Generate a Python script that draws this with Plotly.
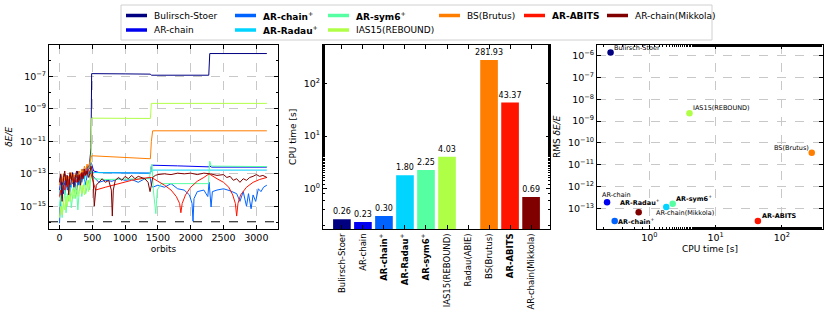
import math
import plotly.graph_objects as go

# ---------------- data ----------------
methods = ['Bulirsch-Stoer', 'AR-chain', '<b>AR-chain</b><sup>+</sup>', '<b>AR-Radau</b><sup>+</sup>',
           '<b>AR-sym6</b><sup>+</sup>', 'IAS15(REBOUND)', 'Radau(ABIE)', 'BS(Brutus)',
           '<b>AR-ABITS</b>', 'AR-chain(Mikkola)']
colors = ['#000080', '#0000f1', '#0063ff', '#00d4ff', '#57ffa3', '#b0ff47', '#ffe600',
          '#ff7e00', '#ff1400', '#800000']
cpu_time = [0.26, 0.23, 0.30, 1.80, 2.25, 4.03, None, 281.93, 43.37, 0.69]
rms_err = [1.4e-6, 1.9e-13, 2.6e-14, 1.15e-13, 1.6e-13, 2.3e-9, None, 3.5e-11, 2.6e-14, 6.6e-14]

eps_line = 1.11e-16

orbits_early = [0, 20, 40, 60, 80, 100, 120, 140, 160, 180, 200, 220, 240, 260, 280, 300,
                320, 340, 360, 380, 400, 420, 440, 460, 480]

bs_err_early = [3e-14, 8e-14, 2e-14, 6e-14, 1e-13, 4e-14, 7e-14, 2.5e-14, 9e-14, 5e-14, 1.2e-13, 3e-14,
                8e-14, 6e-14, 1.5e-13, 4e-14, 1e-13, 7e-14, 2e-13, 9e-14, 1.5e-13, 3e-13, 2e-13, 5e-13, 4e-12]
bs_orbit_late = [490, 1000, 1385, 1400, 2275, 2290, 3160]
bs_err_late = [1.5e-7, 1.45e-7, 1.4e-7, 1.2e-7, 1.2e-7, 2.6e-6, 2.6e-6]

arc_err_early = [1e-14, 4e-14, 1.5e-14, 6e-15, 3e-14, 8e-14, 2e-14, 5e-14, 1e-14, 4e-14, 2.5e-14, 7e-14,
                 3e-14, 1e-13, 5e-14, 2e-14, 8e-14, 4e-14, 1.2e-13, 6e-14, 2e-13, 1e-13, 3e-13, 2e-13, 5e-13]
arc_orbit_late = [490, 520, 600, 1000, 1385, 1400, 1420, 1800, 2270, 2290, 2320, 3160]
arc_err_late = [4e-13, 1.5e-13, 1.2e-13, 1.15e-13, 1.1e-13, 3e-13, 3.4e-13, 3.1e-13, 2.7e-13, 3e-13,
                2.6e-13, 2.6e-13]

arcp_err_early = [9e-17, 1e-14, 3e-15, 1.5e-14, 5e-15, 2.5e-14, 1e-14, 4e-14, 8e-15, 2e-14, 5e-14, 1.5e-14,
                  3e-14, 6e-15, 4e-14, 2e-14, 7e-14, 3e-14, 1e-13, 5e-14, 2e-14, 8e-14, 1.5e-13, 6e-14, 2e-13]
arcp_orbit_late = [500, 550, 600, 700, 800, 900, 1000, 1100, 1200, 1300, 1380, 1400, 1420, 1500, 1600,
                   1700, 1800, 1900, 1980, 2020, 2035, 2050, 2100, 2200, 2260, 2280, 2300, 2310, 2330,
                   2400, 2500, 2600, 2700, 2750, 2800, 2850, 2880, 2920, 2950, 2990, 3030, 3070, 3110, 3160]
arcp_err_late = [8e-14, 5e-14, 3e-14, 4e-14, 3.5e-14, 5e-14, 4e-14, 4.5e-14, 3e-14, 5e-14, 6e-14, 2e-14,
                 1.5e-14, 2e-14, 1.5e-14, 2.5e-14, 1.2e-14, 1e-14, 5e-15, 1.5e-15, 1.2e-16, 3e-15, 8e-15,
                 1e-14, 4e-15, 3e-14, 2e-15, 9e-16, 8e-15, 1e-14, 1.2e-14, 9e-15, 6e-15, 2e-15, 8e-15,
                 1e-15, 6e-15, 7e-16, 5e-15, 2e-15, 1.2e-14, 8e-15, 1.5e-14, 2e-14]

arr_err_early = [5e-15, 2e-14, 8e-15, 3e-14, 1e-14, 5e-14, 2e-14, 1e-14, 4e-14, 1.5e-14, 6e-14, 2.5e-14,
                 8e-14, 3e-14, 1e-13, 5e-14, 2e-14, 7e-14, 1.2e-13, 4e-14, 1.5e-13, 8e-14, 2e-13, 3e-13, 2e-13]
arr_orbit_late = [490, 1385, 1400, 1420, 3160]
arr_err_late = [1.2e-13, 1.1e-13, 1.5e-13, 1.7e-13, 1.7e-13]

ars_err_early = [1e-15, 5e-15, 2e-16, 3e-15, 1e-14, 4e-16, 6e-15, 2e-15, 1.5e-14, 8e-16, 5e-15, 2e-14,
                 3e-15, 1e-14, 6e-16, 8e-15, 2e-14, 4e-15, 1.5e-14, 3e-14, 6e-15, 2e-14, 4e-14, 1e-14, 1e-13]
ars_orbit_late = [490, 520, 700, 1000, 1300, 1370, 1390, 1410, 1430, 1450, 1468, 1490, 1550, 2000,
                  2270, 2290, 2310, 3160]
ars_err_late = [8e-14, 5e-14, 4.5e-14, 4.5e-14, 4.5e-14, 5e-14, 2e-13, 4e-13, 1e-14, 2e-15, 3.5e-16,
                1e-14, 2.5e-14, 2.5e-14, 2.5e-14, 6e-13, 3e-13, 2.8e-13]

ias_err_early = [2e-16, 1e-15, 3e-16, 2e-15, 6e-16, 4e-15, 1e-15, 8e-15, 2e-15, 5e-15, 1.2e-14, 3e-15,
                 8e-15, 2e-14, 4e-15, 1e-14, 3e-14, 6e-15, 2e-14, 5e-15, 1.5e-14, 4e-14, 8e-15, 3e-14, 2e-13]
ias_orbit_late = [490, 1385, 1400, 3160]
ias_err_late = [2.7e-10, 2.6e-10, 2.2e-9, 2.2e-9]

bru_err_early = [2e-14, 6e-14, 3e-14, 1e-13, 4e-14, 8e-14, 2e-14, 7e-14, 5e-14, 1.2e-13, 3e-14, 9e-14,
                 6e-14, 1e-13, 4e-14, 1.5e-13, 8e-14, 2e-13, 1e-13, 3e-13, 1.5e-13, 4e-13, 2e-13, 6e-13, 1e-12]
bru_orbit_late = [490, 700, 1000, 1385, 1400, 1420, 3160]
bru_err_late = [1.3e-12, 1.15e-12, 1e-12, 8.5e-13, 1e-11, 4.5e-11, 4.5e-11]

abi_err_early = [4e-15, 1e-14, 6e-15, 2e-14, 1e-14, 3e-14, 1.5e-14, 4e-14, 2e-14, 3e-14, 5e-14, 2.5e-14,
                 6e-14, 3e-14, 8e-14, 4e-14, 1e-13, 5e-14, 1.2e-13, 8e-14, 1.5e-13, 1e-13, 2e-13, 1.2e-13, 1e-13]
abi_orbit_late = [500, 550, 700, 900, 1100, 1300, 1400, 1500, 1600, 1700, 1780, 1830, 1850, 1870, 1920,
                  2000, 2100, 2200, 2280, 2400, 2500, 2580, 2640, 2680, 2700, 2720, 2760, 2850, 2950,
                  3050, 3160]
abi_err_late = [5e-14, 1e-14, 1.5e-14, 2.5e-14, 4e-14, 5.5e-14, 6e-14, 3.5e-14, 2e-14, 1e-14, 4e-15,
                1.5e-15, 4e-16, 1.5e-15, 5e-15, 1.5e-14, 3.5e-14, 6e-14, 1e-13, 5e-14, 3e-14, 1.5e-14,
                5e-15, 1.5e-15, 2.5e-16, 1.5e-15, 5e-15, 1.5e-14, 3e-14, 4.5e-14, 6e-14]

mik_err_early = [3e-14, 1e-13, 2e-15, 6e-14, 1.5e-13, 2e-14, 8e-14, 5e-15, 1.2e-13, 4e-14, 1e-13, 1.5e-14,
                 6e-14, 1.5e-13, 3e-14, 9e-14, 2e-14, 1.2e-13, 5e-14, 2e-13, 8e-14, 1.5e-13, 6e-14, 1e-13, 3e-13]
mik_orbit_late = [500, 515, 530, 560, 600, 650, 700, 750, 790, 805, 820, 850, 900, 950, 1000, 1050, 1100,
                  1150, 1200, 1250, 1300, 1350, 1380, 1400, 1420, 1460, 1500, 1600, 1700, 1800, 1900,
                  2000, 2100, 2200, 2300, 2400, 2500, 2550, 2600, 2650, 2700, 2750, 2800, 2850, 2900,
                  2950, 3000, 3050, 3100, 3160]
mik_err_late = [1.5e-13, 3e-14, 1e-15, 2e-14, 3e-14, 5e-14, 3e-14, 4e-14, 1e-14, 2.5e-16, 1e-14, 4e-14,
                6e-14, 4e-14, 7e-14, 5e-14, 8e-14, 5e-14, 7e-14, 6e-14, 5e-14, 3e-14, 8e-15, 2e-14, 6e-14,
                8e-14, 9e-14, 1e-13, 9e-14, 1.1e-13, 1e-13, 1.1e-13, 9e-14, 1.1e-13, 1e-13, 8e-14, 9e-14,
                6e-14, 7e-14, 4e-14, 5e-14, 3e-14, 5e-14, 4e-14, 6e-14, 7e-14, 9e-14, 7e-14, 8e-14, 6e-14]

energy_series = [
    (0, bs_err_early, bs_orbit_late, bs_err_late),
    (1, arc_err_early, arc_orbit_late, arc_err_late),
    (2, arcp_err_early, arcp_orbit_late, arcp_err_late),
    (3, arr_err_early, arr_orbit_late, arr_err_late),
    (4, ars_err_early, ars_orbit_late, ars_err_late),
    (5, ias_err_early, ias_orbit_late, ias_err_late),
    (7, bru_err_early, bru_orbit_late, bru_err_late),
    (8, abi_err_early, abi_orbit_late, abi_err_late),
    (9, mik_err_early, mik_orbit_late, mik_err_late),
]

FONT = 'DejaVu Sans'
W, H = 830, 325


def px_x(v):
    return v / W


def px_y(v):
    return 1 - v / H


fig = go.Figure()

# left: energy error vs orbits
for idx, early, orb_late, err_late in energy_series:
    fig.add_trace(go.Scatter(
        x=orbits_early + orb_late, y=early + err_late, mode='lines',
        line=dict(color=colors[idx], width=1), name=methods[idx],
        showlegend=False, xaxis='x', yaxis='y'))

fig.add_shape(type='line', xref='x domain', yref='y', x0=0, x1=1, y0=eps_line, y1=eps_line,
              line=dict(color='black', width=1, dash='dash'))

# middle: CPU time bars
fig.add_trace(go.Bar(
    x=methods, y=cpu_time, marker=dict(color=colors, line=dict(width=0)), width=0.84,
    text=['' if v is None else f'{v:.2f}' for v in cpu_time], textposition='outside',
    constraintext='none', textfont=dict(size=8, family=FONT, color='black'), cliponaxis=False,
    showlegend=False, xaxis='x2', yaxis='y2'))

# right: accuracy vs CPU time
keep = [i for i in range(len(methods)) if rms_err[i] is not None]
fig.add_trace(go.Scatter(
    x=[cpu_time[i] for i in keep], y=[rms_err[i] for i in keep], mode='markers',
    marker=dict(color=[colors[i] for i in keep], size=6.5), cliponaxis=False,
    showlegend=False, xaxis='x3', yaxis='y3'))

# label offsets (px) and anchors for the scatter annotations
label_place = {0: (1, 4, 'left'), 1: (-7, 7, 'left'), 2: (1, 0, 'left'), 3: (-4, 4, 'right'),
               4: (1, 5, 'left'), 5: (2, 5, 'left'), 7: (-1, 5, 'right'), 8: (2, 5, 'left'),
               9: (15, -1, 'left')}
for i in keep:
    dx, dy, anchor = label_place[i]
    fig.add_annotation(xref='x3', yref='y3', x=math.log10(cpu_time[i]), y=math.log10(rms_err[i]),
                       text=methods[i], showarrow=False, xanchor=anchor, yanchor='middle',
                       xshift=dx, yshift=dy, font=dict(size=6.5, family=FONT, color='black'))

axis_style = dict(showline=True, linecolor='black', linewidth=1, mirror='allticks',
                  ticks='inside', ticklen=4, tickcolor='black', zeroline=False, automargin=False,
                  tickfont=dict(size=9.5, family=FONT, color='black'))
grid = dict(showgrid=True, gridcolor='#c8c8c8', griddash='dash', gridwidth=0.8)

ydom = [px_y(229), px_y(44.7)]


def sup_labels(exps):
    return [f'10<sup>{"−" if e < 0 else ""}{abs(e)}</sup>' for e in exps]


left_exps = [-15, -13, -11, -9, -7]
right_exps = [-13, -12, -11, -10, -9, -8, -7, -6]

fig.update_layout(
    template='none',
    width=W, height=H, margin=dict(l=0, r=0, t=0, b=0),
    paper_bgcolor='white', plot_bgcolor='white',
    font=dict(family=FONT, size=9, color='black'),
    xaxis=dict(domain=[px_x(49), px_x(278)], range=[-160, 3330], anchor='y',
               tickvals=[0, 500, 1000, 1500, 2000, 2500, 3000],
               title=dict(text='orbits', font=dict(size=9), standoff=3), **grid, **axis_style),
    yaxis=dict(domain=ydom, type='log', range=[-16.4, -5.04], anchor='x',
               tickvals=[10.0 ** e for e in left_exps], ticktext=sup_labels(left_exps),
               minor=dict(tickvals=[10.0 ** e for e in range(-16, -5)], ticks='inside',
                          ticklen=2, tickcolor='black', showgrid=False),
               title=dict(text='<i>δE/E</i>', font=dict(size=9), standoff=5), **grid, **axis_style),
    xaxis2=dict(domain=[px_x(323), px_x(550)], range=[-0.9, 9.9], anchor='y2', type='category',
                tickangle=-90, showgrid=False,
                **{**axis_style, 'tickfont': dict(size=8.5, family=FONT, color='black')}),
    yaxis2=dict(domain=ydom, type='log', range=[-0.77, 2.74], anchor='x2',
                tickvals=[1, 10, 100], ticktext=sup_labels([0, 1, 2]), showgrid=False,
                minor=dict(ticks='inside', ticklen=2, tickcolor='black', showgrid=False),
                title=dict(text='CPU time [s]', font=dict(size=9), standoff=5), **axis_style),
    xaxis3=dict(domain=[px_x(597), px_x(823)], type='log', range=[-0.79, 2.62], anchor='y3',
                tickvals=[1, 10, 100], ticktext=sup_labels([0, 1, 2]),
                minor=dict(ticks='inside', ticklen=2, tickcolor='black', showgrid=False),
                title=dict(text='CPU time [s]', font=dict(size=9), standoff=3), **grid, **axis_style),
    yaxis3=dict(domain=ydom, type='log', range=[-13.95, -5.5], anchor='x3',
                tickvals=[10.0 ** e for e in right_exps], ticktext=sup_labels(right_exps),
                title=dict(text='RMS <i>δE/E</i>', font=dict(size=9), standoff=5), **grid, **axis_style),
)

# legend drawn by hand (two rows, six columns, column-major like the original)
legend_cols = [126, 235, 328, 439, 524, 607]
legend_rows = [15.5, 30]
legend_slots = {0: (0, 0), 1: (0, 1), 2: (1, 0), 3: (1, 1), 4: (2, 0), 5: (2, 1),
                7: (3, 0), 8: (4, 0), 9: (5, 0)}
fig.add_shape(type='rect', xref='paper', yref='paper', x0=px_x(121), x1=px_x(712),
              y0=px_y(40), y1=px_y(5), line=dict(color='#d0d0d0', width=1), fillcolor='white',
              layer='below')
for idx, (c, r) in legend_slots.items():
    x0 = legend_cols[c]
    y0 = legend_rows[r]
    fig.add_shape(type='line', xref='paper', yref='paper', x0=px_x(x0), x1=px_x(x0 + 21),
                  y0=px_y(y0), y1=px_y(y0), line=dict(color=colors[idx], width=3.5))
    fig.add_annotation(xref='paper', yref='paper', x=px_x(x0 + 26), y=px_y(y0),
                       text=methods[idx], showarrow=False, xanchor='left', yanchor='middle',
                       font=dict(size=9, family=FONT, color='black'))

# the page body has a default 8px margin; drop it so the figure sits at the window's corner
fig.write_html('out.html', config={'displayModeBar': False},
               post_script="document.body.style.margin='0';")
